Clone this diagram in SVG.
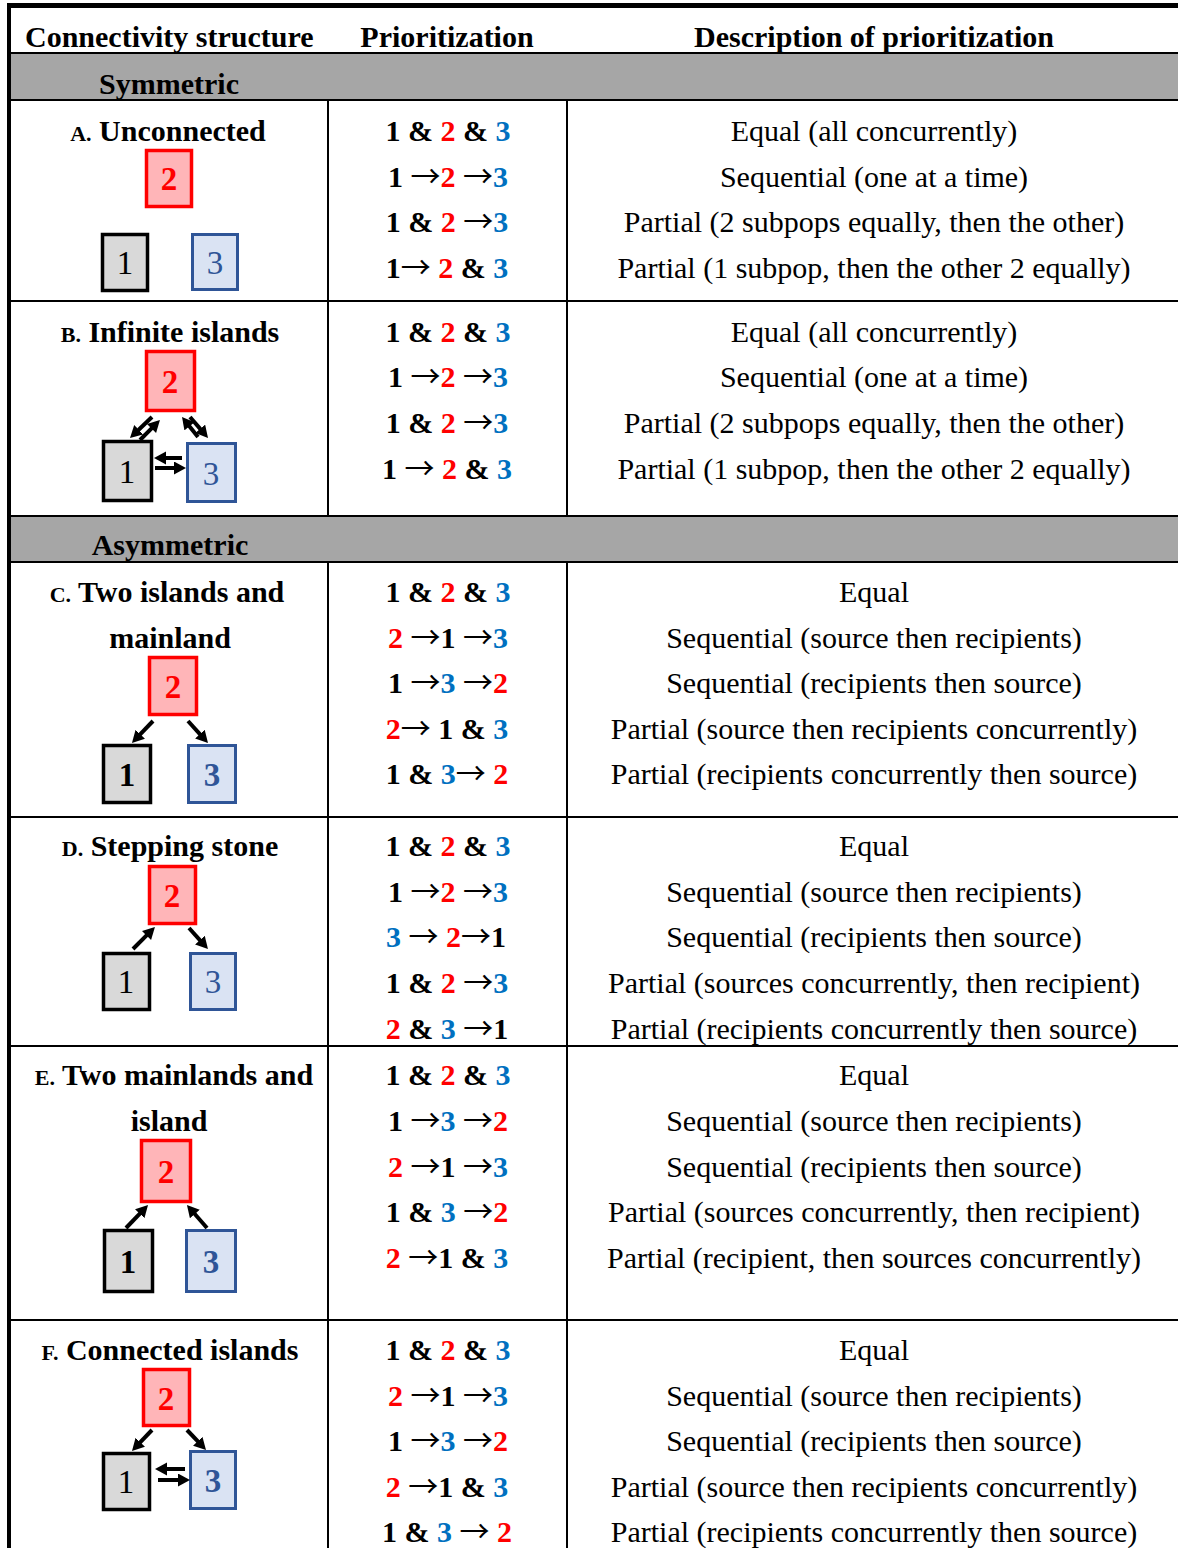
<svg xmlns="http://www.w3.org/2000/svg" width="1178" height="1548" viewBox="0 0 1178 1548">
<style>
text{font-family:"Liberation Serif","Times New Roman",serif;font-size:30px;fill:#000}
.h{font-weight:bold}
.lab{font-weight:bold;text-anchor:middle}
.sc{font-size:22px}
.p{font-weight:bold;text-anchor:middle}
.d{text-anchor:middle}
.ar{font-weight:normal;font-family:"Noto Sans CJK JP","DejaVu Sans",sans-serif;font-size:30px}
.r{fill:#FF0000}
.b{fill:#0070C0}
.ln{stroke:#000;stroke-width:2;fill:none}
.bx1{fill:#D9D9D9;stroke:#000;stroke-width:3.5}
.bx2{fill:#FFB5B8;stroke:#FF0000;stroke-width:3.5}
.bx3{fill:#DAE3F3;stroke:#2F5597;stroke-width:3}
.n{font-size:33px;text-anchor:middle}
.n2{fill:#FF0000;font-weight:bold}
.n3{fill:#2F5597}
.bd{font-weight:bold}
.con{stroke:#000;stroke-width:4;fill:none;marker-end:url(#ah)}
</style>
<defs>
<marker id="ah" markerUnits="userSpaceOnUse" markerWidth="14" markerHeight="14" refX="4" refY="6.5" orient="auto">
<path d="M0,0 L12,6.5 L0,13 z" fill="#000"/>
</marker>
</defs>
<rect width="1178" height="1548" fill="#fff"/>
<g id="table">
<rect x="10" y="54" width="1168" height="46" fill="#A6A6A6"/>
<rect x="10" y="516" width="1168" height="46" fill="#A6A6A6"/>
<rect x="7" y="3" width="1171" height="5" fill="#000"/>
<rect x="7" y="3" width="4" height="1545" fill="#000"/>
<line class="ln" x1="10" y1="53" x2="1178" y2="53"/>
<line class="ln" x1="10" y1="100" x2="1178" y2="100"/>
<line class="ln" x1="10" y1="301" x2="1178" y2="301"/>
<line class="ln" x1="10" y1="516" x2="1178" y2="516"/>
<line class="ln" x1="10" y1="562" x2="1178" y2="562"/>
<line class="ln" x1="10" y1="817" x2="1178" y2="817"/>
<line class="ln" x1="10" y1="1046" x2="1178" y2="1046"/>
<line class="ln" x1="10" y1="1320" x2="1178" y2="1320"/>
<line class="ln" x1="328" y1="100" x2="328" y2="516"/>
<line class="ln" x1="567" y1="100" x2="567" y2="516"/>
<line class="ln" x1="328" y1="562" x2="328" y2="1548"/>
<line class="ln" x1="567" y1="562" x2="567" y2="1548"/>
<text class="h" x="25" y="47">Connectivity structure</text>
<text class="h" x="447" y="47" text-anchor="middle">Prioritization</text>
<text class="h" x="874" y="47" text-anchor="middle">Description of prioritization</text>
<text class="lab" x="169" y="94">Symmetric</text>
<text class="lab" x="170" y="555">Asymmetric</text>
</g>
<g id="node-A">
<text class="lab" x="168" y="141"><tspan class="sc">A.</tspan> Unconnected</text>
<rect class="bx2" x="146.5" y="150.5" width="45" height="56"/>
<rect class="bx1" x="102.5" y="234.5" width="45" height="56"/>
<rect class="bx3" x="192.5" y="234.5" width="45" height="55"/>
<text class="n n2" x="169" y="190">2</text>
<text class="n" x="125" y="274">1</text>
<text class="n n3" x="215" y="274">3</text>
<text class="p" x="448" y="141">1 &amp; <tspan class="r">2</tspan> &amp; <tspan class="b">3</tspan></text>
<text class="p" x="448" y="187">1 <tspan class="ar">→</tspan><tspan class="r">2</tspan> <tspan class="ar">→</tspan><tspan class="b">3</tspan></text>
<text class="p" x="447" y="232">1 &amp; <tspan class="r">2</tspan> <tspan class="ar">→</tspan><tspan class="b">3</tspan></text>
<text class="p" x="447" y="278">1<tspan class="ar">→</tspan> <tspan class="r">2</tspan> &amp; <tspan class="b">3</tspan></text>
<text class="d" x="874" y="141">Equal (all concurrently)</text>
<text class="d" x="874" y="187">Sequential (one at a time)</text>
<text class="d" x="874" y="232">Partial (2 subpops equally, then the other)</text>
<text class="d" x="874" y="278">Partial (1 subpop, then the other 2 equally)</text>
</g>
<g id="node-B">
<text class="lab" x="170" y="342"><tspan class="sc">B.</tspan> Infinite islands</text>
<rect class="bx2" x="146.5" y="351.5" width="48" height="59"/>
<rect class="bx1" x="103.5" y="441.5" width="48" height="59"/>
<rect class="bx3" x="187.5" y="443.5" width="48" height="58"/>
<text class="n n2" x="170" y="393">2</text>
<text class="n" x="127" y="483">1</text>
<text class="n n3" x="211" y="485">3</text>
<text class="p" x="448" y="342">1 &amp; <tspan class="r">2</tspan> &amp; <tspan class="b">3</tspan></text>
<text class="p" x="448" y="387">1 <tspan class="ar">→</tspan><tspan class="r">2</tspan> <tspan class="ar">→</tspan><tspan class="b">3</tspan></text>
<text class="p" x="447" y="433">1 &amp; <tspan class="r">2</tspan> <tspan class="ar">→</tspan><tspan class="b">3</tspan></text>
<text class="p" x="447" y="479">1 <tspan class="ar">→</tspan> <tspan class="r">2</tspan> &amp; <tspan class="b">3</tspan></text>
<text class="d" x="874" y="342">Equal (all concurrently)</text>
<text class="d" x="874" y="387">Sequential (one at a time)</text>
<text class="d" x="874" y="433">Partial (2 subpops equally, then the other)</text>
<text class="d" x="874" y="479">Partial (1 subpop, then the other 2 equally)</text>
</g>
<g id="node-C">
<text class="lab" x="167" y="602"><tspan class="sc">C.</tspan> Two islands and</text>
<text class="lab" x="170" y="648">mainland</text>
<rect class="bx2" x="149.5" y="657.5" width="47" height="57"/>
<rect class="bx1" x="103.5" y="745.5" width="47" height="57"/>
<rect class="bx3" x="188.5" y="745.5" width="47" height="57"/>
<text class="n n2" x="173" y="698">2</text>
<text class="n bd" x="127" y="786">1</text>
<text class="n n3 bd" x="212" y="786">3</text>
<text class="p" x="448" y="602">1 &amp; <tspan class="r">2</tspan> &amp; <tspan class="b">3</tspan></text>
<text class="p" x="448" y="648"><tspan class="r">2</tspan> <tspan class="ar">→</tspan>1 <tspan class="ar">→</tspan><tspan class="b">3</tspan></text>
<text class="p" x="448" y="693">1 <tspan class="ar">→</tspan><tspan class="b">3</tspan> <tspan class="ar">→</tspan><tspan class="r">2</tspan></text>
<text class="p" x="447" y="739"><tspan class="r">2</tspan><tspan class="ar">→</tspan> 1 &amp; <tspan class="b">3</tspan></text>
<text class="p" x="447" y="784">1 &amp; <tspan class="b">3</tspan><tspan class="ar">→</tspan> <tspan class="r">2</tspan></text>
<text class="d" x="874" y="602">Equal</text>
<text class="d" x="874" y="648">Sequential (source then recipients)</text>
<text class="d" x="874" y="693">Sequential (recipients then source)</text>
<text class="d" x="874" y="739">Partial (source then recipients concurrently)</text>
<text class="d" x="874" y="784">Partial (recipients concurrently then source)</text>
</g>
<g id="node-D">
<text class="lab" x="170" y="856"><tspan class="sc">D.</tspan> Stepping stone</text>
<rect class="bx2" x="149.5" y="866.5" width="46" height="57"/>
<rect class="bx1" x="103.5" y="953.5" width="46" height="56"/>
<rect class="bx3" x="190.5" y="953.5" width="45" height="56"/>
<text class="n n2" x="172" y="907">2</text>
<text class="n" x="126" y="993">1</text>
<text class="n n3" x="213" y="993">3</text>
<text class="p" x="448" y="856">1 &amp; <tspan class="r">2</tspan> &amp; <tspan class="b">3</tspan></text>
<text class="p" x="448" y="902">1 <tspan class="ar">→</tspan><tspan class="r">2</tspan> <tspan class="ar">→</tspan><tspan class="b">3</tspan></text>
<text class="p" x="446" y="947"><tspan class="b">3</tspan> <tspan class="ar">→</tspan> <tspan class="r">2</tspan><tspan class="ar">→</tspan>1</text>
<text class="p" x="447" y="993">1 &amp; <tspan class="r">2</tspan> <tspan class="ar">→</tspan><tspan class="b">3</tspan></text>
<text class="p" x="447" y="1039"><tspan class="r">2</tspan> &amp; <tspan class="b">3</tspan> <tspan class="ar">→</tspan>1</text>
<text class="d" x="874" y="856">Equal</text>
<text class="d" x="874" y="902">Sequential (source then recipients)</text>
<text class="d" x="874" y="947">Sequential (recipients then source)</text>
<text class="d" x="874" y="993">Partial (sources concurrently, then recipient)</text>
<text class="d" x="874" y="1039">Partial (recipients concurrently then source)</text>
</g>
<g id="node-E">
<text class="lab" x="174" y="1085"><tspan class="sc">E.</tspan> Two mainlands and</text>
<text class="lab" x="169" y="1131">island</text>
<rect class="bx2" x="141.5" y="1140.5" width="49" height="61"/>
<rect class="bx1" x="104.5" y="1230.5" width="48" height="61"/>
<rect class="bx3" x="186.5" y="1230.5" width="49" height="61"/>
<text class="n n2" x="166" y="1183">2</text>
<text class="n bd" x="128" y="1273">1</text>
<text class="n n3 bd" x="211" y="1273">3</text>
<text class="p" x="448" y="1085">1 &amp; <tspan class="r">2</tspan> &amp; <tspan class="b">3</tspan></text>
<text class="p" x="448" y="1131">1 <tspan class="ar">→</tspan><tspan class="b">3</tspan> <tspan class="ar">→</tspan><tspan class="r">2</tspan></text>
<text class="p" x="448" y="1177"><tspan class="r">2</tspan> <tspan class="ar">→</tspan>1 <tspan class="ar">→</tspan><tspan class="b">3</tspan></text>
<text class="p" x="447" y="1222">1 &amp; <tspan class="b">3</tspan> <tspan class="ar">→</tspan><tspan class="r">2</tspan></text>
<text class="p" x="447" y="1268"><tspan class="r">2</tspan> <tspan class="ar">→</tspan>1 &amp; <tspan class="b">3</tspan></text>
<text class="d" x="874" y="1085">Equal</text>
<text class="d" x="874" y="1131">Sequential (source then recipients)</text>
<text class="d" x="874" y="1177">Sequential (recipients then source)</text>
<text class="d" x="874" y="1222">Partial (sources concurrently, then recipient)</text>
<text class="d" x="874" y="1268">Partial (recipient, then sources concurrently)</text>
</g>
<g id="node-F">
<text class="lab" x="170" y="1360"><tspan class="sc">F.</tspan> Connected islands</text>
<rect class="bx2" x="143.5" y="1369.5" width="46" height="56"/>
<rect class="bx1" x="103.5" y="1453.5" width="46" height="56"/>
<rect class="bx3" x="190.5" y="1451.5" width="45" height="57"/>
<text class="n n2" x="166" y="1410">2</text>
<text class="n" x="126" y="1493">1</text>
<text class="n n3 bd" x="213" y="1492">3</text>
<text class="p" x="448" y="1360">1 &amp; <tspan class="r">2</tspan> &amp; <tspan class="b">3</tspan></text>
<text class="p" x="448" y="1406"><tspan class="r">2</tspan> <tspan class="ar">→</tspan>1 <tspan class="ar">→</tspan><tspan class="b">3</tspan></text>
<text class="p" x="448" y="1451">1 <tspan class="ar">→</tspan><tspan class="b">3</tspan> <tspan class="ar">→</tspan><tspan class="r">2</tspan></text>
<text class="p" x="447" y="1497"><tspan class="r">2</tspan> <tspan class="ar">→</tspan>1 &amp; <tspan class="b">3</tspan></text>
<text class="p" x="447" y="1542">1 &amp; <tspan class="b">3</tspan> <tspan class="ar">→</tspan> <tspan class="r">2</tspan></text>
<text class="d" x="874" y="1360">Equal</text>
<text class="d" x="874" y="1406">Sequential (source then recipients)</text>
<text class="d" x="874" y="1451">Sequential (recipients then source)</text>
<text class="d" x="874" y="1497">Partial (source then recipients concurrently)</text>
<text class="d" x="874" y="1542">Partial (recipients concurrently then source)</text>
</g>
<g id="connectors">
<line class="con" x1="152" y1="417" x2="135.8" y2="432.5"/>
<line class="con" x1="140" y1="440" x2="154.3" y2="425.7"/>
<line class="con" x1="198" y1="437" x2="187" y2="423.2"/>
<line class="con" x1="190" y1="417" x2="202.8" y2="431.9"/>
<line class="con" x1="182" y1="458" x2="162" y2="458"/>
<line class="con" x1="155" y1="468" x2="178" y2="468"/>
<line class="con" x1="153" y1="721" x2="137.5" y2="737.2"/>
<line class="con" x1="188" y1="721" x2="202.6" y2="737.1"/>
<line class="con" x1="133" y1="949" x2="149.3" y2="932.7"/>
<line class="con" x1="189" y1="928" x2="202.6" y2="943.1"/>
<line class="con" x1="126" y1="1228" x2="142.5" y2="1210.8"/>
<line class="con" x1="207" y1="1228" x2="192.2" y2="1211"/>
<line class="con" x1="152" y1="1430" x2="137.5" y2="1445.2"/>
<line class="con" x1="187" y1="1430" x2="200.5" y2="1444.2"/>
<line class="con" x1="185" y1="1469" x2="163" y2="1469"/>
<line class="con" x1="158" y1="1480" x2="182" y2="1480"/>
</g>
</svg>
